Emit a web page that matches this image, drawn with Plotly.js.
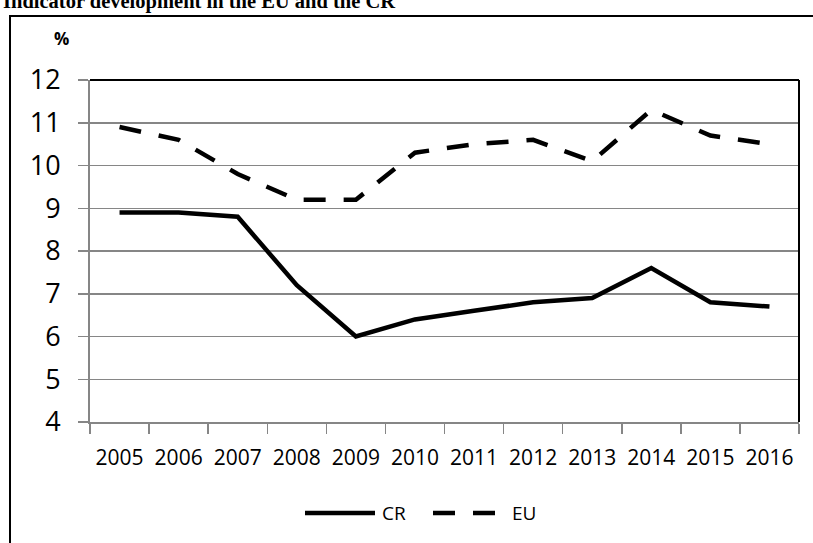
<!DOCTYPE html>
<html>
<head>
<meta charset="utf-8">
<script src="https://cdn.plot.ly/plotly-3.0.1.min.js"></script>
<style>html,body{margin:0;padding:0;background:#fff;}#chart{width:813px;height:543px;}</style>
</head>
<body>
<div id="chart"></div>
<script>
var years = ["2005","2006","2007","2008","2009","2010","2011","2012","2013","2014","2015","2016"];
var crValues = [8.9, 8.9, 8.8, 7.2, 6.0, 6.4, 6.6, 6.8, 6.9, 7.6, 6.8, 6.7];
var euValues = [10.9, 10.6, 9.8, 9.2, 9.2, 10.3, 10.5, 10.6, 10.1, 11.3, 10.7, 10.5];
var seriesNames = ["CR", "EU"];
var yTicks = [4, 5, 6, 7, 8, 9, 10, 11, 12];

var W = 813, H = 543;
var L = 90, R = 799, T = 80, B = 422;
function px(x){ return (x - L) / (R - L); }
function py(y){ return (B - y) / (B - T); }

var font = "Open Sans, Liberation Sans, sans-serif";
var gray = "#868686";

var traces = [
  {x: years, y: crValues, name: seriesNames[0], type: "scatter", mode: "lines",
   line: {color: "#000", width: 4.5}, showlegend: false, hoverinfo: "x+y"},
  {x: years, y: euValues, name: seriesNames[1], type: "scatter", mode: "lines",
   line: {color: "#000", width: 4.5, dash: "22px,18px"}, showlegend: false, hoverinfo: "x+y"}
];

var layout = {
  width: W, height: H,
  margin: {l: L, r: W - R, t: T, b: H - B, pad: 0},
  paper_bgcolor: "#fff", plot_bgcolor: "#fff",
  font: {family: font, color: "#000"},
  xaxis: {
    type: "category", range: [-0.5, years.length - 0.5], tickson: "boundaries", ticks: "outside", ticklen: 10, tickwidth: 1.5, tickcolor: gray,
    showline: true, linecolor: gray, linewidth: 2, showgrid: false, zeroline: false,
    tickfont: {size: 21, family: font, color: "#000"}, ticklabelstandoff: 16, fixedrange: true
  },
  yaxis: {
    range: [4, 12], tickvals: yTicks, ticktext: yTicks.map(String), ticks: "outside", ticklen: 10, tickwidth: 1.5, tickcolor: gray,
    showline: true, linecolor: gray, linewidth: 2, showgrid: true, gridcolor: gray, gridwidth: 1.5, zeroline: false,
    tickfont: {size: 27, family: font, color: "#000"}, ticklabelstandoff: 12, fixedrange: true
  },
  shapes: [
    {type: "line", xref: "paper", yref: "paper", x0: 0, x1: 1, y0: 1, y1: 1, line: {color: "#000", width: 2}},
    {type: "line", xref: "paper", yref: "paper", x0: 1, x1: 1, y0: 0, y1: 1, line: {color: "#000", width: 2}},
    {type: "rect", xref: "paper", yref: "paper", x0: px(10), x1: px(830), y0: py(16), y1: py(560), line: {color: "#000", width: 2}},
    {type: "line", xref: "paper", yref: "paper", x0: px(305), x1: px(375), y0: py(513), y1: py(513), line: {color: "#000", width: 4.5}},
    {type: "line", xref: "paper", yref: "paper", x0: px(433), x1: px(495), y0: py(513), y1: py(513), line: {color: "#000", width: 4.5, dash: "22px,18px"}}
  ],
  annotations: [
    {xref: "paper", yref: "paper", x: px(397), y: py(1), xanchor: "right", yanchor: "middle", showarrow: false,
     text: "<b>Indicator development in the EU and the CR</b>", font: {family: "Liberation Serif, Times New Roman, serif", size: 20.5, color: "#000"}},
    {xref: "paper", yref: "paper", x: px(61), y: py(39), xanchor: "center", yanchor: "middle", showarrow: false,
     text: "<b>%</b>", font: {family: font, size: 17, color: "#000"}},
    {xref: "paper", yref: "paper", x: px(380), y: py(513), xanchor: "left", yanchor: "middle", showarrow: false,
     text: seriesNames[0], font: {family: font, size: 19, color: "#000"}},
    {xref: "paper", yref: "paper", x: px(510), y: py(513), xanchor: "left", yanchor: "middle", showarrow: false,
     text: seriesNames[1], font: {family: font, size: 19, color: "#000"}}
  ]
};

Plotly.newPlot("chart", traces, layout, {displayModeBar: false, staticPlot: true});
</script>
</body>
</html>
